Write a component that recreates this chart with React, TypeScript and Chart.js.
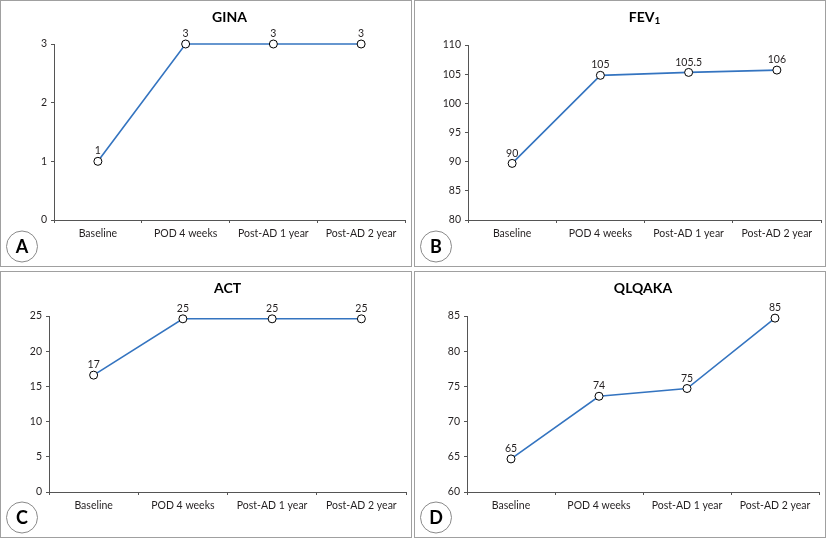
import React, { useEffect, useRef } from "react";
import { Chart, registerables } from "chart.js";

Chart.register(...registerables);

const categories = ["Baseline", "POD 4 weeks", "Post-AD 1 year", "Post-AD 2 year"];

const ginaValues = [1, 3, 3, 3];
const ginaLabels = ["1", "3", "3", "3"];
const ginaTicks = { min: 0, max: 3, step: 1 };

const fevValues = [89.7, 104.8, 105.3, 105.7];
const fevLabels = ["90", "105", "105.5", "106"];
const fevTicks = { min: 80, max: 110, step: 5 };

const actValues = [16.6, 24.6, 24.6, 24.6];
const actLabels = ["17", "25", "25", "25"];
const actTicks = { min: 0, max: 25, step: 5 };

const qlqValues = [64.7, 73.6, 74.7, 84.7];
const qlqLabels = ["65", "74", "75", "85"];
const qlqTicks = { min: 60, max: 85, step: 5 };

const FONT = "Lato, 'Liberation Sans', sans-serif";
const LINE_COLOR = "#3474c0";
const AXIS_COLOR = "#555555";
const TEXT_COLOR = "#231f20";
const TICK_SIZE = 10.5;

type Panel = {
  title: string;
  sub?: string;
  letter: string;
  values: number[];
  labels: string[];
  ticks: { min: number; max: number; step: number };
  left: number;
  top: number;
  plot: { l: number; r: number; t: number; b: number };
};

const W = 412;
const H = 268;

const panels: Panel[] = [
  { title: "GINA", letter: "A", values: ginaValues, labels: ginaLabels, ticks: ginaTicks, left: 0, top: 0, plot: { l: 54, r: 405, t: 44, b: 220 } },
  { title: "FEV", sub: "1", letter: "B", values: fevValues, labels: fevLabels, ticks: fevTicks, left: 414, top: 0, plot: { l: 54, r: 408, t: 45, b: 220 } },
  { title: "ACT", letter: "C", values: actValues, labels: actLabels, ticks: actTicks, left: 0, top: 271, plot: { l: 49, r: 406, t: 45, b: 221 } },
  { title: "QLQAKA", letter: "D", values: qlqValues, labels: qlqLabels, ticks: qlqTicks, left: 414, top: 271, plot: { l: 53, r: 405, t: 45, b: 221 } },
];

const Y_W = 40;
const X_H = 30;

function PanelChart({ p }: { p: Panel }) {
  const ref = useRef<HTMLCanvasElement | null>(null);
  useEffect(() => {
    if (!ref.current) return;
    const decor = {
      id: "decor",
      beforeDraw(chart: any) {
        const ctx = chart.ctx;
        ctx.save();
        ctx.fillStyle = "#ffffff";
        ctx.fillRect(0, 0, chart.width, chart.height);
        ctx.strokeStyle = "#a0a0a0";
        ctx.lineWidth = 1;
        ctx.strokeRect(0.5, 0.5, 411, 266);
        ctx.restore();
      },
      afterDraw(chart: any) {
        const ctx = chart.ctx;
        const area = chart.chartArea;
        ctx.save();
        // title
        const cx = (area.left + area.right) / 2;
        ctx.fillStyle = "#000";
        ctx.font = `bold 14px ${FONT}`;
        ctx.textBaseline = "middle";
        if (p.sub) {
          const w1 = ctx.measureText(p.title).width;
          ctx.font = `bold 10px ${FONT}`;
          const w2 = ctx.measureText(p.sub).width;
          const start = cx - (w1 + w2) / 2;
          ctx.font = `bold 14px ${FONT}`;
          ctx.textAlign = "left";
          ctx.fillText(p.title, start, 17);
          ctx.font = `bold 10px ${FONT}`;
          ctx.fillText(p.sub, start + w1, 21);
        } else {
          ctx.textAlign = "center";
          ctx.fillText(p.title, cx, 17);
        }
        // data labels
        const meta = chart.getDatasetMeta(0);
        ctx.font = `${TICK_SIZE}px ${FONT}`;
        ctx.fillStyle = TEXT_COLOR;
        ctx.textAlign = "center";
        ctx.textBaseline = "bottom";
        meta.data.forEach((pt: any, i: number) => {
          ctx.fillText(p.labels[i], pt.x, pt.y - 5);
        });
        // circled letter
        ctx.beginPath();
        ctx.arc(22, 246.5, 15.5, 0, Math.PI * 2);
        ctx.strokeStyle = "#8a8a8a";
        ctx.lineWidth = 1;
        ctx.stroke();
        ctx.fillStyle = "#000";
        ctx.font = `bold 18px ${FONT}`;
        ctx.textAlign = "center";
        ctx.textBaseline = "middle";
        ctx.fillText(p.letter, 22, 247.5);
        ctx.restore();
      },
    };
    const chart = new Chart(ref.current, {
      type: "line",
      data: {
        labels: categories,
        datasets: [
          {
            data: p.values,
            borderColor: LINE_COLOR,
            borderWidth: 1.6,
            pointRadius: 4,
            pointBackgroundColor: "#ffffff",
            pointBorderColor: "#000000",
            pointBorderWidth: 1,
            tension: 0,
            clip: false as any,
          },
        ],
      },
      options: {
        responsive: false,
        animation: false,
        events: [],
        layout: {
          padding: {
            left: p.plot.l - Y_W,
            right: W - p.plot.r,
            top: p.plot.t,
            bottom: H - p.plot.b - X_H,
          },
        },
        plugins: { legend: { display: false }, tooltip: { enabled: false }, title: { display: false } },
        scales: {
          x: {
            type: "category",
            offset: true,
            grid: { offset: true, drawOnChartArea: false, tickLength: 3, color: AXIS_COLOR },
            border: { color: AXIS_COLOR, width: 1 },
            ticks: { font: { family: FONT, size: TICK_SIZE }, color: TEXT_COLOR, padding: 4, maxRotation: 0, autoSkip: false },
            afterFit: (s: any) => {
              s.height = X_H;
            },
          },
          y: {
            min: p.ticks.min,
            max: p.ticks.max,
            grid: { drawOnChartArea: false, tickLength: 3, color: AXIS_COLOR },
            border: { color: AXIS_COLOR, width: 1 },
            ticks: { stepSize: p.ticks.step, font: { family: FONT, size: TICK_SIZE }, color: TEXT_COLOR, padding: 4 },
            afterFit: (s: any) => {
              s.width = Y_W;
            },
          },
        },
      },
      plugins: [decor],
    });
    return () => chart.destroy();
  }, [p]);
  return (
    <canvas
      ref={ref}
      width={W}
      height={H}
      style={{ position: "absolute", left: p.left, top: p.top, width: W, height: H }}
    />
  );
}

export default function App() {
  return (
    <div style={{ position: "absolute", left: 0, top: 0, width: 827, height: 538, background: "#fff" }}>
      {panels.map((p) => (
        <PanelChart key={p.letter} p={p} />
      ))}
    </div>
  );
}
